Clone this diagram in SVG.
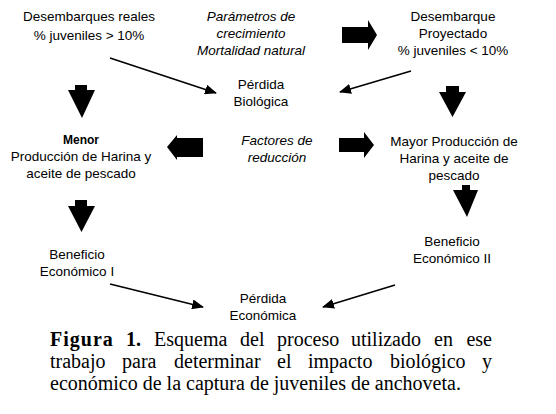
<svg xmlns="http://www.w3.org/2000/svg" width="556" height="414" viewBox="0 0 556 414">
<defs>
<marker id="ah" markerWidth="12" markerHeight="10" refX="11" refY="5" orient="auto" markerUnits="userSpaceOnUse">
<path d="M0,0 L12,5 L0,10 Z" fill="#000"/>
</marker>
<style>
.t{font-family:"Liberation Sans",Arial,sans-serif;font-size:13.5px;fill:#000;text-anchor:middle}
.i{font-style:italic}
.b{font-weight:bold}
.c{font-family:"Liberation Serif","Times New Roman",serif;font-size:20px;fill:#000}
.ln{stroke:#000;stroke-width:1.6;fill:none;marker-end:url(#ah)}
.blk{fill:#000}
</style>
</defs>
<rect width="556" height="414" fill="#fff"/>
<g id="n1"><text class="t" x="89" y="21">Desembarques reales</text><text class="t" x="89" y="40">% juveniles &gt; 10%</text></g>
<g id="n2"><text class="t i" x="251" y="21">Parámetros de</text><text class="t i" x="251" y="38">crecimiento</text><text class="t i" x="251" y="55">Mortalidad natural</text></g>
<g id="n3"><text class="t" x="453" y="21">Desembarque</text><text class="t" x="453" y="38">Proyectado</text><text class="t" x="453" y="55">% juveniles &lt; 10%</text></g>
<g id="n4"><text class="t" x="261" y="89">Pérdida</text><text class="t" x="261" y="106">Biológica</text></g>
<g id="n5"><text class="t b" x="81" y="144" style="font-size:12px">Menor</text><text class="t" x="81" y="161">Producción de Harina y</text><text class="t" x="81" y="178">aceite de pescado</text></g>
<g id="n6"><text class="t i" x="277" y="145">Factores de</text><text class="t i" x="277" y="162">reducción</text></g>
<g id="n7"><text class="t" x="454" y="146">Mayor Producción de</text><text class="t" x="454" y="163">Harina y aceite de</text><text class="t" x="454" y="180">pescado</text></g>
<g id="n8"><text class="t" x="77" y="259">Beneficio</text><text class="t" x="77" y="276">Económico I</text></g>
<g id="n9"><text class="t" x="452" y="246">Beneficio</text><text class="t" x="452" y="263">Económico II</text></g>
<g id="n10"><text class="t" x="263" y="303">Pérdida</text><text class="t" x="263" y="320">Económica</text></g>
<g id="connectors">
<line class="ln" x1="110" y1="58" x2="216" y2="93"/>
<line class="ln" x1="411" y1="71" x2="340" y2="92"/>
<line class="ln" x1="110" y1="284" x2="203" y2="307"/>
<line class="ln" x1="395" y1="285" x2="323" y2="307"/>
<polygon class="blk" points="342,27 368,27 368,20 377,35 368,50 368,43 342,43"/>
<polygon class="blk" points="339,138 364,138 364,132 374,145 364,158 364,152 339,152"/>
<polygon class="blk" points="203,138 177,138 177,135 167,147 177,160 177,157 203,157"/>
<polygon class="blk" points="75,85 87,85 87,90 95,90 82,118 68,90 75,90"/>
<polygon class="blk" points="446,86 459,86 459,92 466,92 452.5,117 439,92 446,92"/>
<polygon class="blk" points="75,200 87,200 87,206 95,206 81.5,232 68,206 75,206"/>
<polygon class="blk" points="462,185 470,185 470,190 478,190 467,217 453,190 462,190"/>
</g>
<g id="caption">
<text class="c" y="346"><tspan x="50" font-weight="bold" letter-spacing="1">Figura</tspan><tspan x="126" font-weight="bold">1.</tspan><tspan x="154">Esquema</tspan><tspan x="240">del</tspan><tspan x="277">proceso</tspan><tspan x="351">utilizado</tspan><tspan x="434">en</tspan></text>
<text class="c" x="492" y="346" text-anchor="end">ese</text>
<text class="c" y="368"><tspan x="50">trabajo</tspan><tspan x="122">para</tspan><tspan x="174">determinar</tspan><tspan x="277">el</tspan><tspan x="308">impacto</tspan><tspan x="390">biológico</tspan></text>
<text class="c" x="492" y="368" text-anchor="end">y</text>
<text class="c" x="50" y="390">económico de la captura de juveniles de anchoveta.</text>
</g>
</svg>
